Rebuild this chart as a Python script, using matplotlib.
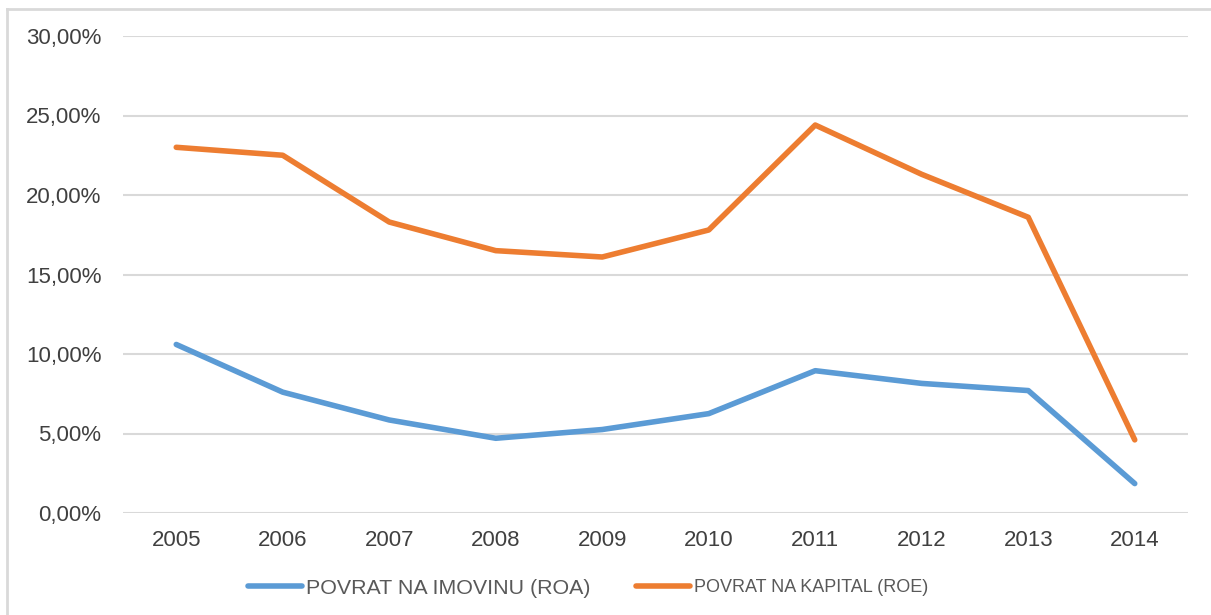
import matplotlib.pyplot as plt
from matplotlib.lines import Line2D
from matplotlib.ticker import FuncFormatter

years = ["2005", "2006", "2007", "2008", "2009", "2010", "2011", "2012", "2013", "2014"]
roa = [10.6, 7.6, 5.85, 4.7, 5.25, 6.25, 8.95, 8.15, 7.7, 1.85]
roe = [23.0, 22.5, 18.3, 16.5, 16.1, 17.8, 24.4, 21.3, 18.6, 4.6]
label_roa = "POVRAT NA IMOVINU (ROA)"
label_roe = "POVRAT NA KAPITAL (ROE)"

plt.rcParams["font.family"] = ["Liberation Sans", "DejaVu Sans"]

W, H = 1211, 615
fig = plt.figure(figsize=(W / 100, H / 100), dpi=100)
ax = fig.add_axes([123 / W, 1 - 513 / H, (1188 - 123) / W, (513 - 36) / H])

x = list(range(len(years)))
h_roa, = ax.plot(x, roa, color="#5B9BD5", lw=4.0, solid_capstyle="round", label=label_roa)
h_roe, = ax.plot(x, roe, color="#ED7D31", lw=4.0, solid_capstyle="round", label=label_roe)

ax.set_xlim(-0.5, len(years) - 0.5)
ax.set_ylim(0, 30)
ax.set_yticks([0, 5, 10, 15, 20, 25, 30])
ax.yaxis.set_major_formatter(FuncFormatter(lambda v, p: f"{v:.2f}%".replace(".", ",")))
ax.set_xticks(x)
ax.set_xticklabels(years)
ax.grid(axis="y", color="#D9D9D9", lw=1.5)
ax.set_axisbelow(True)
for s in ax.spines.values():
    s.set_visible(False)
ax.tick_params(length=0, labelsize=16, colors="#404040")
ax.tick_params(axis="y", pad=15.5)
ax.tick_params(axis="x", pad=12.5)

# two legend entries placed separately, like the original layout
leg_y = 1 - 588 / H
for h, lab, fs, x0 in [(h_roa, label_roa, 15.4, 248), (h_roe, label_roe, 13, 636)]:
    handle_len = 54 / (fs * 100 / 72)
    fig.legend(handles=[h], labels=[lab], loc="center left", bbox_to_anchor=(x0 / W, leg_y),
               frameon=False, fontsize=fs, handlelength=handle_len, handletextpad=0.2,
               borderpad=0, borderaxespad=0, labelcolor="#595959")

# outer chart frame
fig.add_artist(Line2D([7 / W, 1.0], [1 - 9 / H] * 2, color="#D9D9D9", lw=2))
fig.add_artist(Line2D([7 / W] * 2, [0.0, 1 - 9 / H], color="#D9D9D9", lw=2))

fig.savefig("out.png", dpi=100)
